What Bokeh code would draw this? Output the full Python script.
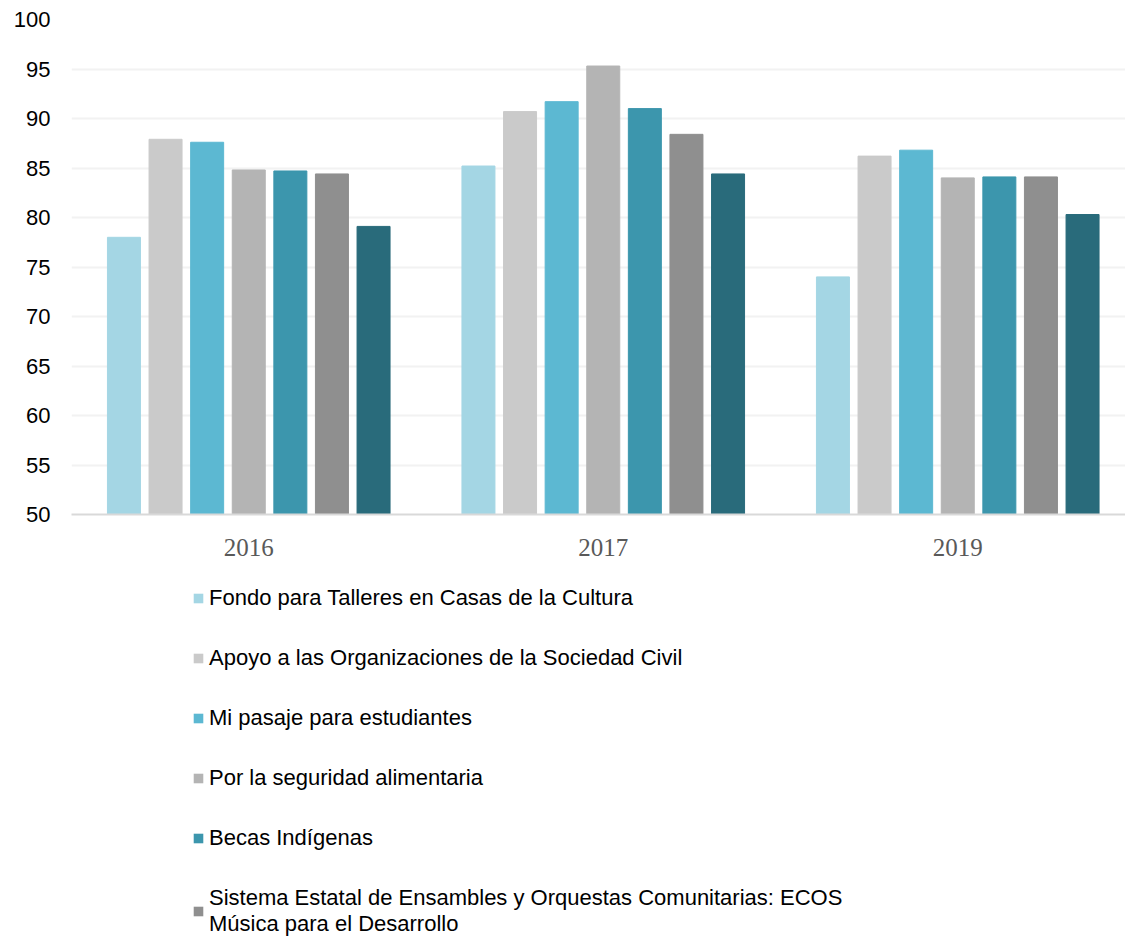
from bokeh.plotting import figure
from bokeh.models import ColumnDataSource, Range1d, FixedTicker, Legend, LegendItem
from bokeh.layouts import column
from bokeh.transform import dodge
from bokeh.embed import file_html
from bokeh.resources import INLINE

years = ["2016", "2017", "2019"]

series_names = [
    "Fondo para Talleres en Casas de la Cultura",
    "Apoyo a las Organizaciones de la Sociedad Civil",
    "Mi pasaje para estudiantes",
    "Por la seguridad alimentaria",
    "Becas Indígenas",
    "Sistema Estatal de Ensambles y Orquestas Comunitarias: ECOS\nMúsica para el Desarrollo",
    "",  # seventh series: its legend entry lies outside the picture
]

fondo_talleres = [78.0, 85.2, 74.0]
apoyo_osc = [87.9, 90.7, 86.2]
mi_pasaje = [87.6, 91.7, 86.8]
seguridad_alimentaria = [84.8, 95.3, 84.0]
becas_indigenas = [84.7, 91.0, 84.1]
ecos = [84.4, 88.4, 84.1]
septima_serie = [79.1, 84.4, 80.3]

series_values = [fondo_talleres, apoyo_osc, mi_pasaje, seguridad_alimentaria,
                 becas_indigenas, ecos, septima_serie]

colors = ["#A4D6E4", "#CACACA", "#5CB8D2", "#B4B4B4", "#3C96AD", "#8F8F8F", "#296B7B"]

y_ticks = list(range(50, 101, 5))

px_per_unit = 354.5
frame_w = 1054
left_border = 71

# ---------------- chart ----------------
p = figure(
    frame_width=frame_w, frame_height=495,
    x_range=Range1d(-0.5, -0.5 + frame_w / px_per_unit),
    y_range=Range1d(50, 100),
    output_backend="svg", toolbar_location=None,
    min_border_top=19, min_border_left=left_border, min_border_right=0, min_border_bottom=60,
)
p.outline_line_color = None
p.background_fill_color = "white"
p.border_fill_color = "white"

pitch = 41.6 / px_per_unit
bar_w = 33.0 / px_per_unit

sources = []
for i, (vals, col) in enumerate(zip(series_values, colors)):
    src = ColumnDataSource(dict(x=list(range(len(years))), top=vals))
    sources.append(src)
    p.vbar(x=dodge("x", (i - 3) * pitch, range=p.x_range), top="top", width=bar_w,
           source=src, fill_color=col, line_color=col, line_width=1)

p.xgrid.visible = False
p.ygrid.grid_line_color = "#F2F2F2"
p.ygrid.grid_line_width = 2
p.ygrid.ticker = FixedTicker(ticks=y_ticks)

ya = p.yaxis[0]
ya.ticker = FixedTicker(ticks=y_ticks)
ya.axis_line_color = None
ya.major_tick_line_color = None
ya.minor_tick_line_color = None
ya.major_tick_out = 0
ya.major_tick_in = 0
ya.major_label_standoff = 21
ya.major_label_text_font = "Liberation Sans"
ya.major_label_text_font_size = "22px"
ya.major_label_text_color = "#000000"

xa = p.xaxis[0]
xa.ticker = FixedTicker(ticks=list(range(len(years))))
xa.major_label_overrides = {i: y for i, y in enumerate(years)}
xa.axis_line_color = "#D9D9D9"
xa.axis_line_width = 2
xa.major_tick_line_color = None
xa.minor_tick_line_color = None
xa.major_tick_out = 0
xa.major_tick_in = 0
xa.major_label_standoff = 24
xa.major_label_text_font = "Liberation Serif"
xa.major_label_text_font_size = "25px"
xa.major_label_text_color = "#595959"

# ---------------- legend panel ----------------
lg = figure(
    frame_width=frame_w, frame_height=363,
    x_range=Range1d(-2, -1), y_range=Range1d(0, 1),
    x_axis_location=None, y_axis_location=None,
    output_backend="svg", toolbar_location=None,
    min_border_top=0, min_border_left=left_border, min_border_right=0, min_border_bottom=8,
)
lg.outline_line_color = None
lg.grid.visible = False
lg.background_fill_color = "white"
lg.border_fill_color = "white"

items = []
for name, col, src in zip(series_names[:6], colors[:6], sources[:6]):
    # zero-height swatch renderers kept out of view; only their legend glyph is shown
    r = lg.vbar(x="x", top="top", bottom="top", width=0, source=src,
                fill_color=col, line_color=None)
    items.append(LegendItem(label=name, renderers=[r]))

legend = Legend(
    items=items, orientation="vertical", location=(121, 0),
    label_text_font="Liberation Sans", label_text_font_size="22px",
    label_text_color="#000000",
    glyph_width=12, glyph_height=12, label_standoff=5, label_height=24,
    spacing=34, padding=0, margin=0,
    border_line_color=None, background_fill_alpha=0,
)
lg.add_layout(legend, "center")

layout = column(p, lg, spacing=0)
open("out.html", "w").write(file_html(layout, INLINE))
